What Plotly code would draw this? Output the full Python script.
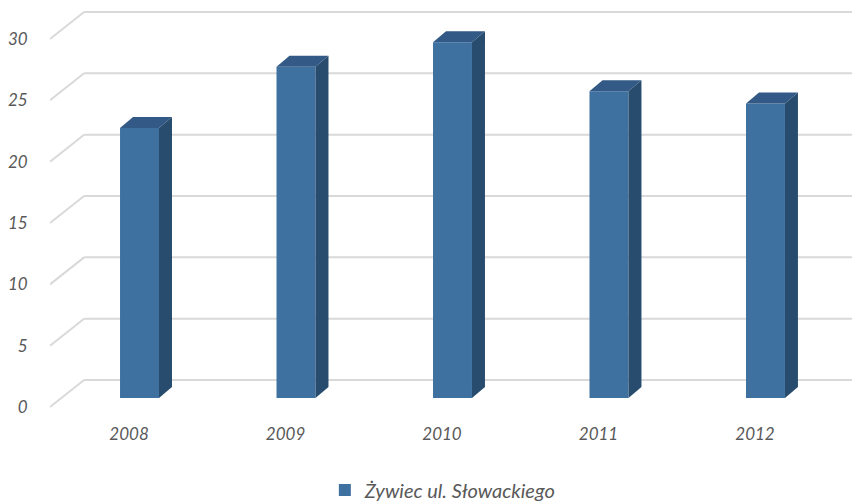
import plotly.graph_objects as go

years = ["2008", "2009", "2010", "2011", "2012"]
values = [22, 27, 29, 25, 24]
series_name = "Żywiec ul. Słowackiego"
y_ticks = [0, 5, 10, 15, 20, 25, 30]

# colours
FRONT = "#3F71A0"
TOP = "#335A86"
SIDE = "#284C6D"
GRID = "#D9D9D9"
TXT = "#595959"

# 3D projection constants (in axis units)
depth_x_wall = 0.218   # back wall offset (x)
depth_y_wall = 2.2     # back wall offset (y)
bar_base = 0.733       # bar front floor level
bar_off = 0.067        # bar centre offset from category
bar_w = 0.249
bdx = 0.083            # bar depth (x)
bdy = 0.9              # bar depth (y)

x0, x1 = -0.505, 4.671
y0, y1 = -0.24, 32.36

xs = list(range(len(years)))

fig = go.Figure()

# front faces
fig.add_trace(go.Bar(
    x=[i + bar_off for i in xs], y=values, base=bar_base, width=bar_w,
    marker=dict(color=FRONT, line=dict(width=0)),
    name=series_name, showlegend=True, hoverinfo="skip",
))

# top and side faces
for i, v in zip(xs, values):
    xl = i + bar_off - bar_w / 2
    xr = i + bar_off + bar_w / 2
    top = bar_base + v
    fig.add_trace(go.Scatter(
        x=[xl, xr, xr + bdx, xl + bdx, xl],
        y=[top, top, top + bdy, top + bdy, top],
        fill="toself", fillcolor=TOP, mode="lines", line=dict(width=0),
        showlegend=False, hoverinfo="skip",
    ))
    fig.add_trace(go.Scatter(
        x=[xr, xr + bdx, xr + bdx, xr, xr],
        y=[bar_base, bar_base + bdy, top + bdy, top, bar_base],
        fill="toself", fillcolor=SIDE, mode="lines", line=dict(width=0),
        showlegend=False, hoverinfo="skip",
    ))

# back-wall gridlines with diagonal floor/side lines
shapes = []
for t in y_ticks:
    shapes.append(dict(type="line", xref="x", yref="y", layer="below",
                       x0=x0, y0=t, x1=x0 + depth_x_wall, y1=t + depth_y_wall,
                       line=dict(color=GRID, width=2)))
    shapes.append(dict(type="line", xref="x", yref="y", layer="below",
                       x0=x0 + depth_x_wall, y0=t + depth_y_wall, x1=x1, y1=t + depth_y_wall,
                       line=dict(color=GRID, width=2)))

font = dict(family="Lato, 'Open Sans', sans-serif", size=17, color=TXT, style="italic")
legend_font = dict(family="Lato, 'Open Sans', sans-serif", size=20, color=TXT, style="italic")

# the page places the figure 8px in from the top-left corner
fig.update_layout(
    width=852, height=496,
    margin=dict(l=42, r=0, t=2, b=94, autoexpand=False),
    paper_bgcolor="white", plot_bgcolor="white",
    shapes=shapes,
    showlegend=True,
    legend=dict(orientation="h", x=0.485, xanchor="center", y=-0.2, yanchor="middle",
                font=legend_font, bgcolor="rgba(0,0,0,0)"),
    xaxis=dict(range=[x0, x1], tickmode="array", tickvals=xs, ticktext=years,
               showgrid=False, zeroline=False, showline=False, automargin=False,
               ticks="outside", ticklen=9, tickcolor="rgba(0,0,0,0)",
               tickfont=font, fixedrange=True),
    yaxis=dict(range=[y0, y1], tickmode="array", tickvals=y_ticks,
               ticktext=[str(t) for t in y_ticks], automargin=False,
               showgrid=False, zeroline=False, showline=False,
               ticks="outside", ticklen=18, tickcolor="rgba(0,0,0,0)",
               tickfont=font, fixedrange=True),
)

fig.write_html("out.html")
